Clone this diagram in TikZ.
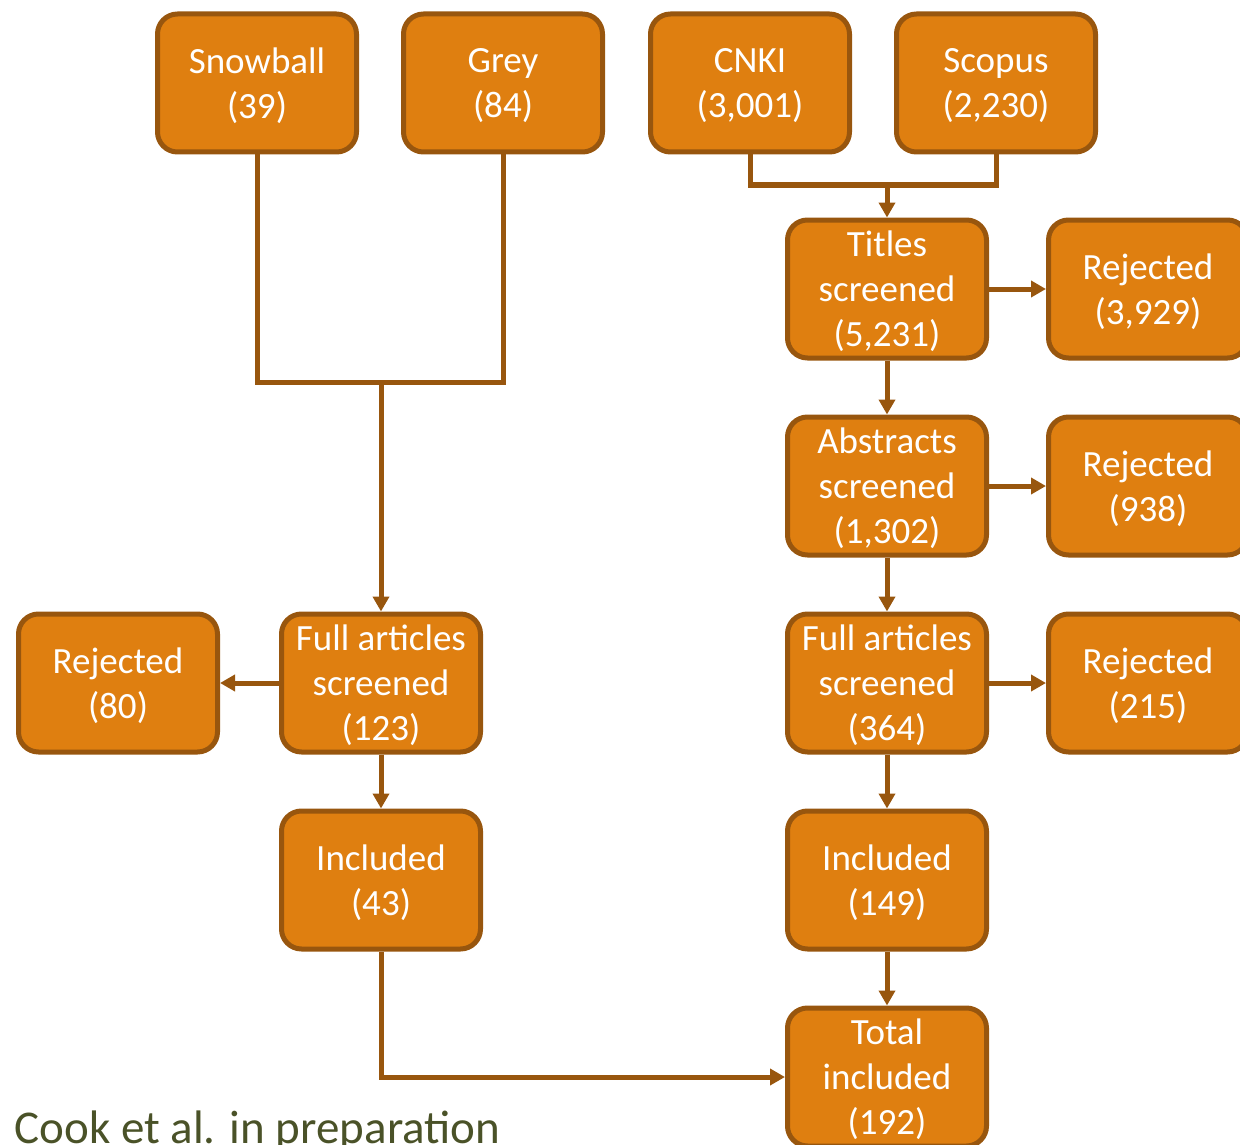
\documentclass[tikz,border=0pt]{standalone}
\usepackage{fontspec}
\setmainfont{Carlito}
\usepackage{tikz}
\usetikzlibrary{shapes,arrows,arrows.meta,positioning}

\definecolor{boxorange}{RGB}{223,127,16}
\definecolor{boxbrown}{RGB}{152,86,14}
\definecolor{captiongreen}{RGB}{74,82,40}

\begin{document}
\begin{tikzpicture}[x=1pt, y=-1pt, node distance=54pt and 57pt, line width=5pt]
    \tikzstyle{block} = [rectangle, draw=boxbrown, fill=boxorange, text=white, align=center, text depth=0pt, rounded corners=20pt, minimum width=199pt, minimum height=138pt, inner sep=0pt, font=\fontsize{37}{45}\selectfont]
    \tikzstyle{line} = [draw=boxbrown, -{Triangle[length=15pt, width=16pt]}]

    \useasboundingbox (0,0) rectangle (1240,1145);

    % sources
    \node[block] (snowball) at (257,83) {Snowball\\(39)};
    \node[block] (grey) at (503,83) {Grey\\(84)};
    \node[block] (cnki) at (750,83) {CNKI\\(3,001)};
    \node[block] (scopus) at (996,83) {Scopus\\(2,230)};

    % database branch
    \node[block] (titles) at (887,289) {Titles\\screened\\(5,231)};
    \node[block, right=of titles] (rejtitles) {Rejected\\(3,929)};
    \node[block, below=of titles] (abstracts) {Abstracts\\screened\\(1,302)};
    \node[block, right=of abstracts] (rejabstracts) {Rejected\\(938)};
    \node[block, below=of abstracts] (fulldb) {Full articles\\screened\\(364)};
    \node[block, right=of fulldb] (rejfulldb) {Rejected\\(215)};
    \node[block, below=of fulldb] (incdb) {Included\\(149)};
    \node[block, below=of incdb] (total) {Total\\included\\(192)};

    % snowball and grey branch
    \node[block] (fullother) at (381,683) {Full articles\\screened\\(123)};
    \node[block, left=59pt of fullother] (rejfullother) {Rejected\\(80)};
    \node[block, below=of fullother] (incother) {Included\\(43)};

    \coordinate (mergeother) at (381,382);
    \coordinate (mergedb) at (887,185);

    \draw[boxbrown] (snowball.south) |- (mergeother) -| (grey.south);
    \draw[boxbrown] (cnki.south) |- (mergedb) -| (scopus.south);

    \path[line] (mergeother) -- (fullother);
    \path[line] (mergedb) -- (titles);
    \path[line] (titles) -- (rejtitles);
    \path[line] (titles) -- (abstracts);
    \path[line] (abstracts) -- (rejabstracts);
    \path[line] (abstracts) -- (fulldb);
    \path[line] (fulldb) -- (rejfulldb);
    \path[line] (fulldb) -- (incdb);
    \path[line] (incdb) -- (total);
    \path[line] (fullother) -- (rejfullother);
    \path[line] (fullother) -- (incother);
    \path[line] (incother) |- (total);

    \node[anchor=base west, inner sep=0pt, text=captiongreen, font=\fontsize{47}{56}\selectfont] (caption) at (12,1143) {Cook et al. in preparation};
\end{tikzpicture}
\end{document}
